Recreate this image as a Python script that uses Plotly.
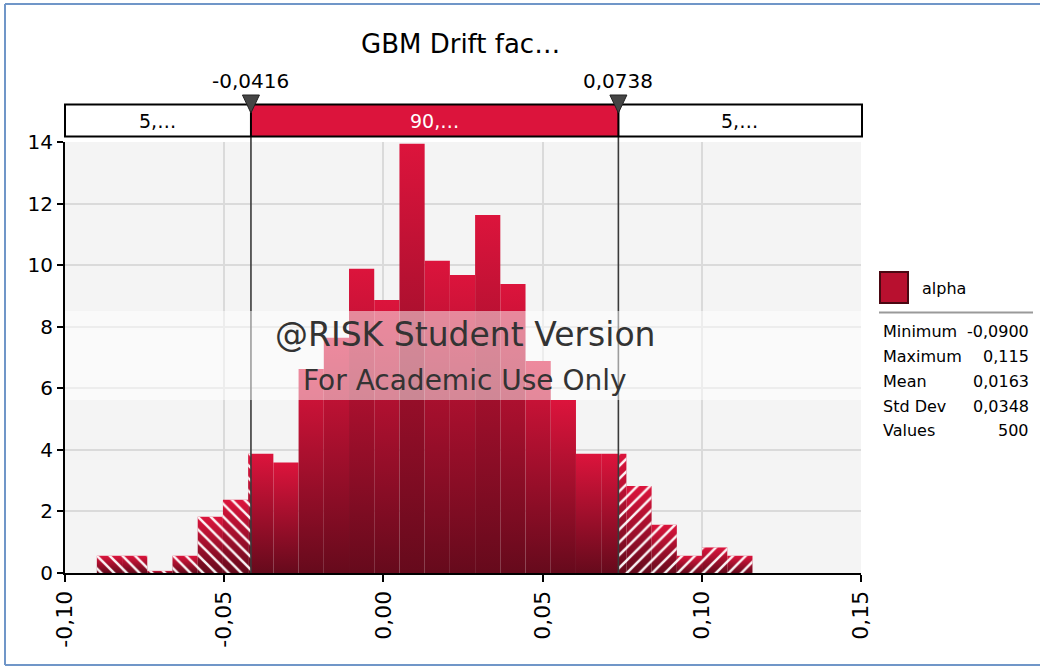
import plotly.graph_objects as go

# ---------------- data ----------------
title_text = "GBM Drift fac…"
series_name = "alpha"
bin_start = -0.0900
bin_width = 0.00792
heights = [0.56, 0.56, 0.07, 0.56, 1.83, 2.38, 3.87, 3.59, 6.63, 7.64, 9.88, 8.87, 13.94,
           10.14, 9.68, 11.63, 9.39, 6.89, 5.62, 3.87, 3.87, 2.83, 1.57, 0.56, 0.83, 0.56]
delim_lo = -0.0416
delim_hi = 0.0738
delim_labels = ["-0,0416", "0,0738"]
region_labels = ["5,…", "90,…", "5,…"]
stats_labels = ["Minimum", "Maximum", "Mean", "Std Dev", "Values"]
stats_values = ["-0,0900", "0,115", "0,0163", "0,0348", "500"]
x_ticks = [-0.10, -0.05, 0.00, 0.05, 0.10, 0.15]
y_ticks = [0, 2, 4, 6, 8, 10, 12, 14]
watermark = ["@RISK Student Version", "For Academic Use Only"]

# ---------------- layout helpers ----------------
W, H = 1040, 666
L, R, T, B = 65, 179, 142, 93
PW, PH = W - L - R, H - T - B
X0, X1 = -0.10, 0.15
Y0, Y1 = 0, 14


def px(x):
    return (x - L) / PW


def py(y):
    return (H - B - y) / PH


FONT = "DejaVu Sans"
CRIMSON = "#DC143C"
DARK = "#660A1C"

fig = go.Figure()

# gradient bars
for i, h in enumerate(heights):
    l = bin_start + i * bin_width
    r = l + bin_width
    fig.add_trace(go.Scatter(
        x=[l, l, r, r, l], y=[0, h, h, 0, 0], mode="lines", fill="toself",
        line=dict(width=0), fillcolor=CRIMSON,
        fillgradient=dict(type="vertical", colorscale=[[0, DARK], [1, CRIMSON]]),
        hoverinfo="skip", showlegend=False))

# hatched overlays outside the delimiters
left_x, left_y, right_x, right_y = [], [], [], []
for i, h in enumerate(heights):
    l = bin_start + i * bin_width
    r = l + bin_width
    if l < delim_lo:
        rr = min(r, delim_lo)
        left_x += [l, l, rr, rr, l, None]
        left_y += [0, h, h, 0, 0, None]
    if r > delim_hi:
        ll = max(l, delim_hi)
        right_x += [ll, ll, r, r, ll, None]
        right_y += [0, h, h, 0, 0, None]
for xs, ys, shp in ((left_x, left_y, "\\"), (right_x, right_y, "/")):
    fig.add_trace(go.Scatter(
        x=xs, y=ys, mode="lines", fill="toself", line=dict(width=0),
        fillcolor="white",
        fillpattern=dict(shape=shp, fgcolor="white", bgcolor="rgba(0,0,0,0)",
                         fgopacity=0.95, size=9, solidity=0.28, fillmode="replace"),
        hoverinfo="skip", showlegend=False))

shapes = []
# delimiter lines
for d in (delim_lo, delim_hi):
    shapes.append(dict(type="line", xref="x", yref="paper", x0=d, x1=d,
                       y0=0, y1=py(104), line=dict(color="#3A3A3A", width=1.6)))
# watermark band
shapes.append(dict(type="rect", xref="paper", yref="paper", x0=0, x1=px(862),
                   y0=py(400), y1=py(311), fillcolor="rgba(255,255,255,0.5)",
                   line=dict(width=0), layer="above"))
# top region bar
shapes.append(dict(type="rect", xref="x", yref="paper", x0=delim_lo, x1=delim_hi,
                   y0=py(136.5), y1=py(104.5), fillcolor=CRIMSON, line=dict(width=0)))
shapes.append(dict(type="rect", xref="paper", yref="paper", x0=0, x1=px(862),
                   y0=py(136.5), y1=py(104.5), fillcolor="rgba(0,0,0,0)",
                   line=dict(color="black", width=2)))
for d in (delim_lo, delim_hi):
    shapes.append(dict(type="line", xref="x", yref="paper", x0=d, x1=d,
                       y0=py(136.5), y1=py(104.5), line=dict(color="black", width=2)))
# delimiter triangles
dx = 8.5 * (X1 - X0) / PW
for d in (delim_lo, delim_hi):
    shapes.append(dict(type="path", xref="x", yref="paper",
                       path=f"M {d - dx},{py(95)} L {d + dx},{py(95)} L {d},{py(113)} Z",
                       fillcolor="#454545", line=dict(color="#222222", width=1)))
# legend swatch and divider
shapes.append(dict(type="rect", xref="paper", yref="paper", x0=px(880), x1=px(908),
                   y0=py(303), y1=py(272), fillcolor="#B8102F",
                   line=dict(color="#4A0812", width=2)))
shapes.append(dict(type="line", xref="paper", yref="paper", x0=px(879), x1=px(1033),
                   y0=py(312.5), y1=py(312.5), line=dict(color="#9A9A9A", width=2)))
# outer frame (left, top, bottom edges; right edge lies outside the picture)
frame = dict(color="#7096C8", width=2)
for (xa, ya, xb, yb) in ((5, 4, 5, 665), (5, 4, W, 4), (5, 665, W, 665)):
    shapes.append(dict(type="line", xref="paper", yref="paper", x0=px(xa), y0=py(ya),
                       x1=px(xb), y1=py(yb), line=frame))


def note(text, x, y, size, color="black", xref="paper", xanchor="center"):
    return dict(text=text, xref=xref, yref="paper", x=x, y=y, xanchor=xanchor,
                yanchor="middle", showarrow=False,
                font=dict(size=size, color=color, family=FONT))


ann = [note(title_text, px(460), py(44), 26)]
for d, t in zip((delim_lo, delim_hi), delim_labels):
    ann.append(note(t, d, py(81), 20, xref="x"))
centers = [(X0 + delim_lo) / 2, (delim_lo + delim_hi) / 2, (delim_hi + X1) / 2]
colors = ["black", "white", "black"]
for c, t, col in zip(centers, region_labels, colors):
    ann.append(note(t, c, py(121), 19, color=col, xref="x"))
ann.append(note(watermark[0], px(465), py(334), 33, color="#333333"))
ann.append(note(watermark[1], px(465), py(380), 28, color="#333333"))
ann.append(note(series_name, px(920), py(288), 16, xanchor="left"))
for k, (lab, val) in enumerate(zip(stats_labels, stats_values)):
    yy = py(331 + 25 * k)
    ann.append(note(lab, px(881), yy, 16, xanchor="left"))
    ann.append(note(val, px(1031), yy, 16, xanchor="right"))

fig.update_layout(
    width=W, height=H, margin=dict(l=L, r=R, t=T, b=B, autoexpand=False),
    paper_bgcolor="white", plot_bgcolor="#F4F4F4",
    showlegend=False, separators=", ", font=dict(family=FONT, color="black"),
    shapes=shapes, annotations=ann,
    xaxis=dict(range=[X0, X1], tickvals=x_ticks,
               ticktext=[f"{v:.2f}".replace(".", ",") for v in x_ticks],
               tickangle=-90, ticks="outside", ticklen=7, tickwidth=2, tickcolor="black",
               showline=True, linecolor="black", linewidth=2, showgrid=True,
               gridcolor="#DADADA", gridwidth=1.5, zeroline=False,
               tickfont=dict(size=22, family=FONT)),
    yaxis=dict(range=[Y0, Y1], tickvals=y_ticks, ticks="outside", ticklen=6, tickwidth=2,
               tickcolor="black", showline=True, linecolor="black", linewidth=2,
               showgrid=True, gridcolor="#DADADA", gridwidth=1.5, zeroline=False,
               tickfont=dict(size=20, family=FONT)),
)

fig.write_html("out.html", config={"displayModeBar": False},
               post_script="document.body.style.margin='0';document.body.style.padding='0';")
